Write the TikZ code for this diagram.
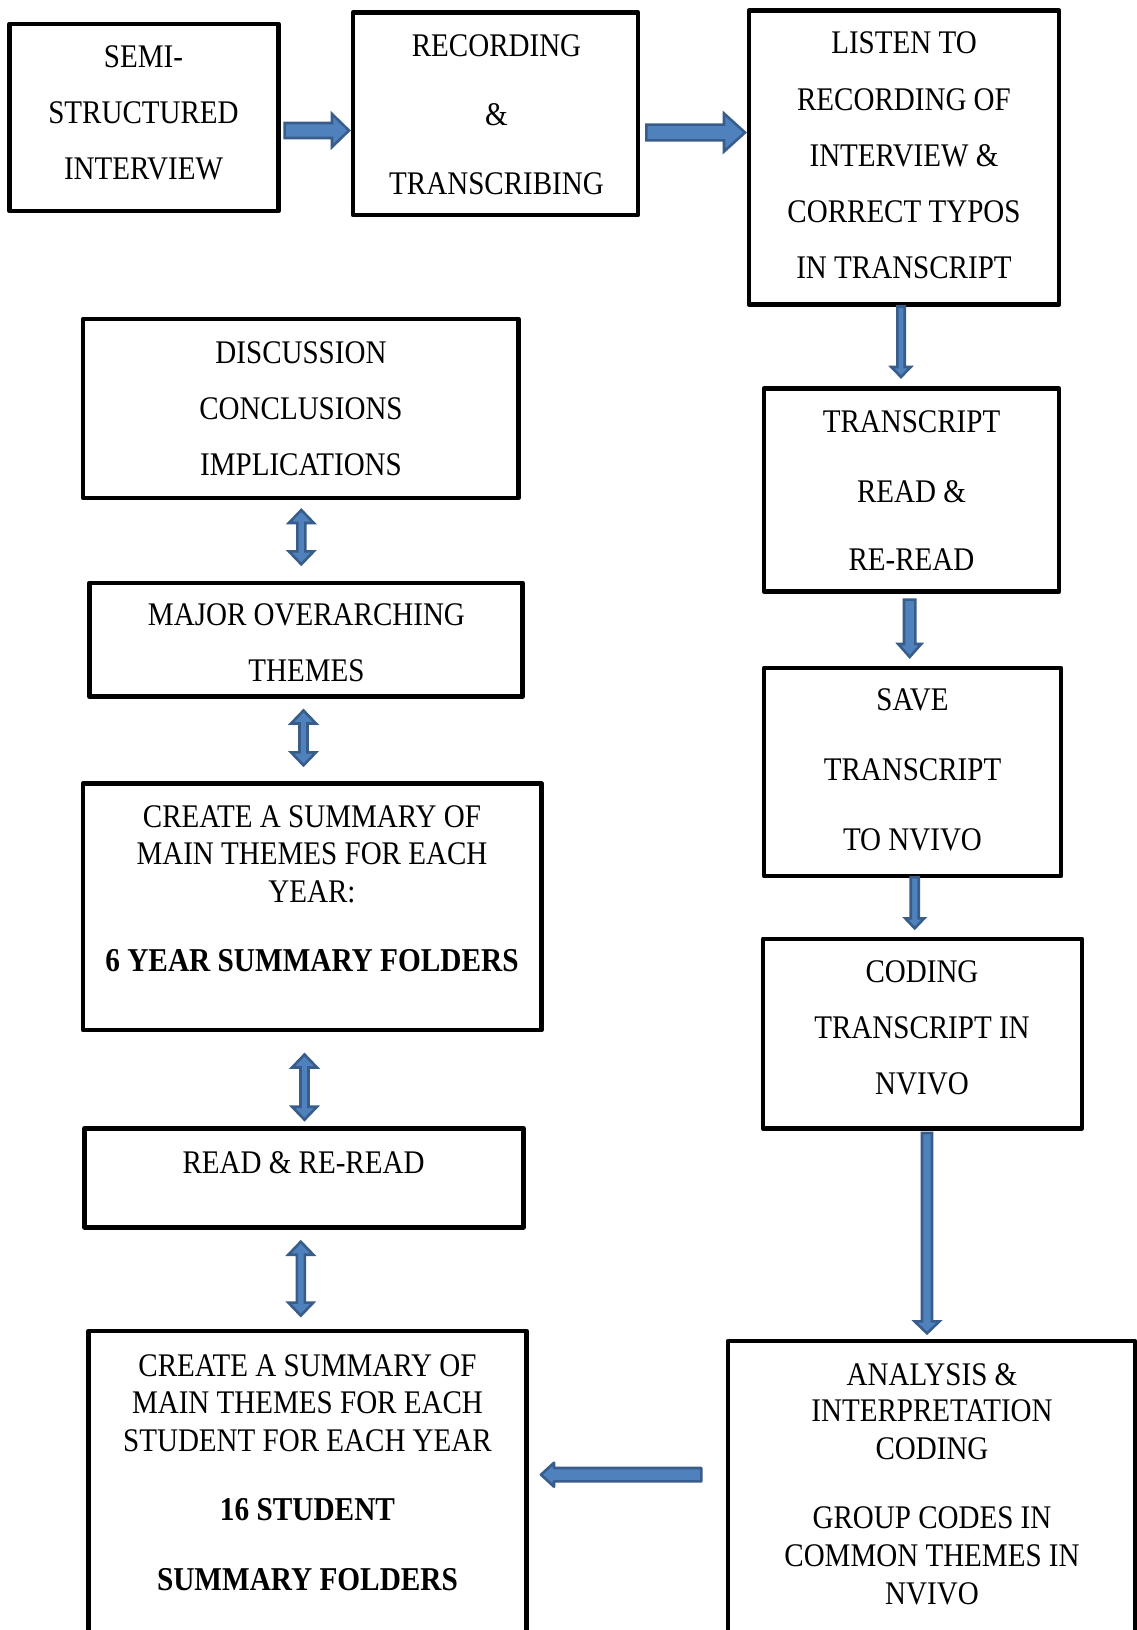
\documentclass[tikz,border=0pt]{standalone}
\usepackage{fontspec}
\setmainfont{Liberation Serif}[FakeStretch=0.88]
\usetikzlibrary{calc}
\definecolor{arrowdark}{HTML}{385D8A}
\definecolor{arrowfill}{HTML}{4F81BD}
% block arrows between named coordinates: #1 start, #2 tip, #3 shaft half width, #4 head half width, #5 head length
\newcommand\rarrowblk[5]{\draw[barrow] let \p1=(#1), \p2=(#2) in
  (\x1,\y1+#3) -- (\x2-#5,\y1+#3) -- (\x2-#5,\y1+#4) -- (\x2,\y1) -- (\x2-#5,\y1-#4) -- (\x2-#5,\y1-#3) -- (\x1,\y1-#3) -- cycle;}
\newcommand\larrowblk[5]{\draw[barrow,line join=round] let \p1=(#1), \p2=(#2) in
  (\x1,\y1+#3) -- (\x2+#5,\y1+#3) -- (\x2+#5,\y1+#4) -- (\x2,\y1) -- (\x2+#5,\y1-#4) -- (\x2+#5,\y1-#3) -- (\x1,\y1-#3) -- cycle;}
\newcommand\darrowblk[5]{\draw[barrow] let \p1=(#1), \p2=(#2) in
  (\x1-#3,\y1) -- (\x1-#3,\y2+#5) -- (\x1-#4,\y2+#5) -- (\x1,\y2) -- (\x1+#4,\y2+#5) -- (\x1+#3,\y2+#5) -- (\x1+#3,\y1) -- cycle;}
\newcommand\udarrowblk[5]{\draw[barrow] let \p1=(#1), \p2=(#2) in
  (\x1,\y1) -- (\x1+#4,\y1-#5) -- (\x1+#3,\y1-#5) -- (\x1+#3,\y2+#5) -- (\x1+#4,\y2+#5) -- (\x1,\y2)
  -- (\x1-#4,\y2+#5) -- (\x1-#3,\y2+#5) -- (\x1-#3,\y1-#5) -- (\x1-#4,\y1-#5) -- cycle;}
\begin{document}
\begin{tikzpicture}[x=1pt,y=-1pt,
  box/.style={draw=black, line width=4.5pt, rectangle, outer sep=0pt, inner sep=0pt, line join=round},
  txt/.style={anchor=base, inner sep=0pt, font=\fontsize{33}{40}\selectfont},
  btxt/.style={txt, font=\fontsize{33.3}{40}\selectfont\bfseries},
  barrow/.style={draw=arrowdark, fill=arrowfill, line width=2.6pt, line join=miter}]
\clip (0,0) rectangle (1137,1630);
\fill[white] (0,0) rectangle (1137,1630);

% boxes
\node[box, minimum width=269pt, minimum height=187pt] (A) at (144,117.5) {};
\node[box, minimum width=285pt, minimum height=202.5pt] (B) at (495.5,113.8) {};
\node[box, minimum width=310pt, minimum height=294pt] (C) at (904,157.5) {};
\node[box, minimum width=295pt, minimum height=202.7pt] (D) at (911.5,490) {};
\node[box, minimum width=297pt, minimum height=208pt] (E) at (912.5,772) {};
\node[box, minimum width=319pt, minimum height=189.5pt] (F) at (922.5,1033.5) {};
\node[box, minimum width=407pt, minimum height=318pt] (G) at (931.5,1500) {};
\node[box, minimum width=438pt, minimum height=330pt] (H) at (307.5,1496) {};
\node[box, minimum width=439pt, minimum height=99pt] (I) at (304,1177.8) {};
\node[box, minimum width=458.5pt, minimum height=246.4pt] (J) at (312.2,906.8) {};
\node[box, minimum width=433.4pt, minimum height=113.3pt] (K) at (306,639.7) {};
\node[box, minimum width=435.6pt, minimum height=178.8pt] (L) at (300.8,408.4) {};

% texts
\node[txt] (a1) at (143.5,67) {SEMI-};
\node[txt] (a2) at (143.5,123) {STRUCTURED};
\node[txt] (a3) at (143.5,179) {INTERVIEW};

\node[txt] (b1) at (496.5,56) {RECORDING};
\node[txt] (b2) at (496.5,125) {\&};
\node[txt] (b3) at (496.5,194) {TRANSCRIBING};

\node[txt] (c1) at (904,53) {LISTEN TO};
\node[txt] (c2) at (904,110) {RECORDING OF};
\node[txt] (c3) at (904,166) {INTERVIEW \&};
\node[txt] (c4) at (904,222) {CORRECT TYPOS};
\node[txt] (c5) at (904,278) {IN TRANSCRIPT};

\node[txt] (d1) at (911.5,432) {TRANSCRIPT};
\node[txt] (d2) at (911.5,502) {READ \&};
\node[txt] (d3) at (911.5,570) {RE-READ};

\node[txt] (e1) at (912.5,710) {SAVE};
\node[txt] (e2) at (912.5,780) {TRANSCRIPT};
\node[txt] (e3) at (912.5,850) {TO NVIVO};

\node[txt] (f1) at (922,982) {CODING};
\node[txt] (f2) at (922,1038) {TRANSCRIPT IN};
\node[txt] (f3) at (922,1094) {NVIVO};

\node[txt] (g1) at (932,1385) {ANALYSIS \&};
\node[txt] (g2) at (932,1421.5) {INTERPRETATION};
\node[txt] (g3) at (932,1459) {CODING};
\node[txt] (g4) at (932,1528.5) {GROUP CODES IN};
\node[txt] (g5) at (932,1566) {COMMON THEMES IN};
\node[txt] (g6) at (932,1604) {NVIVO};

\node[txt] (h1) at (307.5,1376) {CREATE A SUMMARY OF};
\node[txt] (h2) at (307.5,1413) {MAIN THEMES FOR EACH};
\node[txt] (h3) at (307.5,1451) {STUDENT FOR EACH YEAR};
\node[btxt] (h4) at (307.5,1520) {16 STUDENT};
\node[btxt] (h5) at (307.5,1590) {SUMMARY FOLDERS};

\node[txt] (i1) at (303.5,1173) {READ \& RE-READ};

\node[txt] (j1) at (312,827) {CREATE A SUMMARY OF};
\node[txt] (j2) at (312,864) {MAIN THEMES FOR EACH};
\node[txt] (j3) at (312,902) {YEAR:};
\node[btxt] (j4) at (312,971) {6 YEAR SUMMARY FOLDERS};

\node[txt] (k1) at (306.5,625) {MAJOR OVERARCHING};
\node[txt] (k2) at (306.5,681) {THEMES};

\node[txt] (l1) at (301,363) {DISCUSSION};
\node[txt] (l2) at (301,419) {CONCLUSIONS};
\node[txt] (l3) at (301,475) {IMPLICATIONS};

% connector end points
\coordinate (ab0) at (284.6,130.5); \coordinate (ab1) at (349,130.5);
\coordinate (bc0) at (646.3,132.5); \coordinate (bc1) at (745,132.5);
\coordinate (cd0) at (901,306.5);   \coordinate (cd1) at (901,377);
\coordinate (de0) at (909.7,599.6); \coordinate (de1) at (909.7,657);
\coordinate (ef0) at (914.7,877.3); \coordinate (ef1) at (914.7,928.3);
\coordinate (fg0) at (927,1133);    \coordinate (fg1) at (927,1333.3);
\coordinate (gh0) at (701.3,1474.7); \coordinate (gh1) at (541,1474.7);
\coordinate (lk0) at (301.3,510);   \coordinate (lk1) at (301.3,564.3);
\coordinate (kj0) at (303.5,710.5); \coordinate (kj1) at (303.5,765.3);
\coordinate (ji0) at (304.5,1054.5); \coordinate (ji1) at (304.5,1119.7);
\coordinate (ih0) at (300.8,1241.7); \coordinate (ih1) at (300.8,1315.6);

% connectors
\rarrowblk{ab0}{ab1}{7.5pt}{16.5pt}{17pt}
\rarrowblk{bc0}{bc1}{7.9pt}{19pt}{21pt}
\darrowblk{cd0}{cd1}{3.7pt}{9.7pt}{10pt}
\darrowblk{de0}{de1}{5.7pt}{11.5pt}{13pt}
\darrowblk{ef0}{ef1}{4pt}{9.5pt}{10pt}
\darrowblk{fg0}{fg1}{5pt}{12.5pt}{12pt}
\larrowblk{gh0}{gh1}{6.7pt}{12pt}{13pt}
\udarrowblk{lk0}{lk1}{4pt}{12.5pt}{13pt}
\udarrowblk{kj0}{kj1}{4pt}{12.5pt}{13pt}
\udarrowblk{ji0}{ji1}{4pt}{12.5pt}{13pt}
\udarrowblk{ih0}{ih1}{4pt}{12.5pt}{13pt}
\end{tikzpicture}
\end{document}
